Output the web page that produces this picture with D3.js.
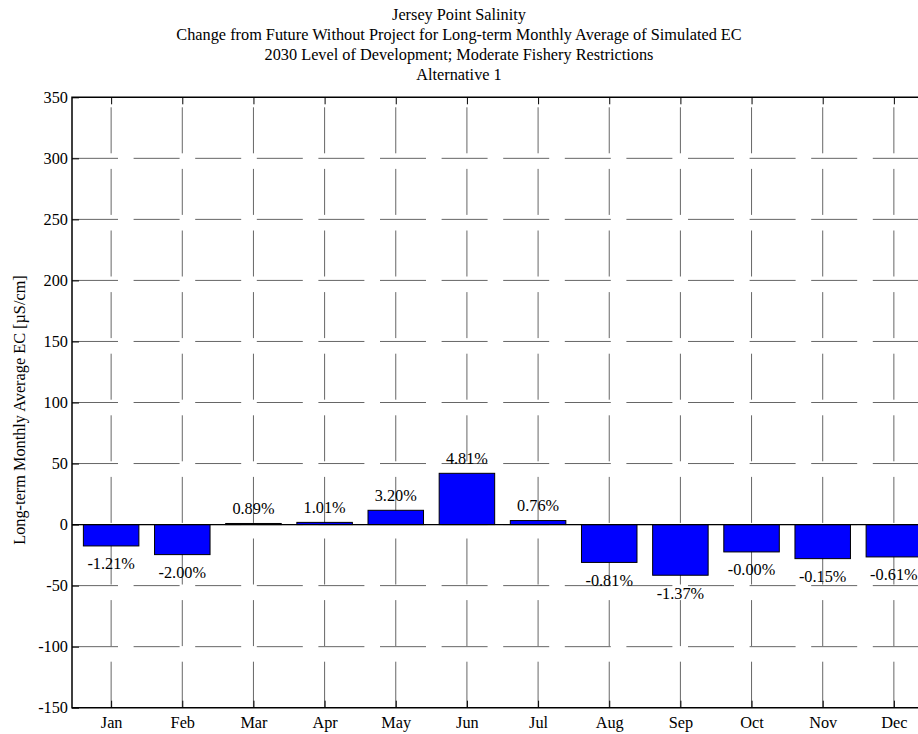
<!DOCTYPE html>
<html>
<head>
<meta charset="utf-8">
<script src="https://cdn.jsdelivr.net/npm/d3@7"></script>
<style>
  body { margin: 0; background: #fff; }
  svg text { font-family: "Liberation Serif", "Times New Roman", serif; fill: #000; }
</style>
</head>
<body>
<div id="chart"></div>
<script>
const months = ["Jan", "Feb", "Mar", "Apr", "May", "Jun", "Jul", "Aug", "Sep", "Oct", "Nov", "Dec"];
// change in long-term monthly average EC (uS/cm)
const changeEC = [-17.5, -24.6, 0.9, 1.8, 11.7, 42.0, 3.3, -31.0, -41.5, -22.4, -27.9, -26.5];
const pctLabels = ["-1.21%", "-2.00%", "0.89%", "1.01%", "3.20%", "4.81%", "0.76%", "-0.81%", "-1.37%", "-0.00%", "-0.15%", "-0.61%"];
const yTicks = [-150, -100, -50, 0, 50, 100, 150, 200, 250, 300, 350];
const titleLines = [
  "Jersey Point Salinity",
  "Change from Future Without Project for Long-term Monthly Average of Simulated EC",
  "2030 Level of Development; Moderate Fishery Restrictions",
  "Alternative 1"
];
const yLabel = "Long-term Monthly Average EC [\u00b5S/cm]";

const width = 918, height = 734;
const plotL = 72, plotR = 933, plotT = 97.3, plotB = 707.7;
const fontSize = 16.3;

const svg = d3.select("#chart")
  .append("svg")
  .attr("width", width)
  .attr("height", height);

// month index 1..12 on a linear scale, like the matlab bar plot
const x = d3.scaleLinear().domain([0.45, 12.55]).range([plotL, plotR]);
const y = d3.scaleLinear().domain([-150, 350]).range([plotB, plotT]);
const barW = 0.78;

// grid
const grid = svg.append("g")
  .attr("stroke", "#666")
  .attr("stroke-width", 1)
  .attr("stroke-dasharray", "46,15.6");

grid.selectAll("line.h")
  .data(yTicks.filter(d => d > -150 && d < 350))
  .join("line")
  .attr("class", "h")
  .attr("x1", plotL).attr("x2", width)
  .attr("y1", d => y(d)).attr("y2", d => y(d));

grid.selectAll("line.v")
  .data(months)
  .join("line")
  .attr("class", "v")
  .attr("x1", (d, i) => x(i + 1)).attr("x2", (d, i) => x(i + 1))
  .attr("y1", plotB).attr("y2", plotT);

// bars
svg.append("g")
  .selectAll("rect")
  .data(changeEC)
  .join("rect")
  .attr("x", (d, i) => x(i + 1 - barW / 2))
  .attr("width", x(1 + barW) - x(1))
  .attr("y", d => y(Math.max(0, d)))
  .attr("height", d => Math.abs(y(d) - y(0)))
  .attr("fill", "#0000ff")
  .attr("stroke", "#000")
  .attr("stroke-width", 1);

// baseline at zero
svg.append("line")
  .attr("x1", plotL).attr("x2", width)
  .attr("y1", y(0)).attr("y2", y(0))
  .attr("stroke", "#000")
  .attr("stroke-width", 1.2);

// percent labels
svg.append("g")
  .selectAll("text")
  .data(changeEC)
  .join("text")
  .attr("x", (d, i) => x(i + 1))
  .attr("y", d => d >= 0 ? y(d) - 9.5 : y(d) + 23.5)
  .attr("text-anchor", "middle")
  .attr("font-size", fontSize)
  .text((d, i) => pctLabels[i]);

// axes
const yAxis = d3.axisLeft(y).tickValues(yTicks).tickSize(-7).tickPadding(4).tickFormat(d => String(d));
const gy = svg.append("g").attr("transform", `translate(${plotL},0)`).call(yAxis);
gy.select(".domain").remove();
gy.selectAll("line").attr("stroke", "#000");
gy.selectAll("text").attr("font-size", fontSize);

const xAxis = d3.axisBottom(x).tickValues(d3.range(1, 13)).tickSize(-7).tickPadding(9).tickFormat(d => months[d - 1]);
const gx = svg.append("g").attr("transform", `translate(0,${plotB})`).call(xAxis);
gx.select(".domain").remove();
gx.selectAll("text").attr("font-size", fontSize);

const xTop = d3.axisTop(x).tickValues(d3.range(1, 13)).tickSize(-7).tickFormat("");
const gt = svg.append("g").attr("transform", `translate(0,${plotT})`).call(xTop);
gt.select(".domain").remove();

// box
svg.append("path")
  .attr("d", `M${width},${plotT}H${plotL}V${plotB}H${width}`)
  .attr("fill", "none")
  .attr("stroke", "#000")
  .attr("stroke-width", 1.5);

// titles
svg.append("g")
  .selectAll("text")
  .data(titleLines)
  .join("text")
  .attr("x", 459)
  .attr("y", (d, i) => 19.5 + i * 20.3)
  .attr("text-anchor", "middle")
  .attr("font-size", fontSize)
  .text(d => d);

svg.append("text")
  .attr("transform", "translate(25,410) rotate(-90)")
  .attr("text-anchor", "middle")
  .attr("font-size", fontSize)
  .text(yLabel);
</script>
</body>
</html>
